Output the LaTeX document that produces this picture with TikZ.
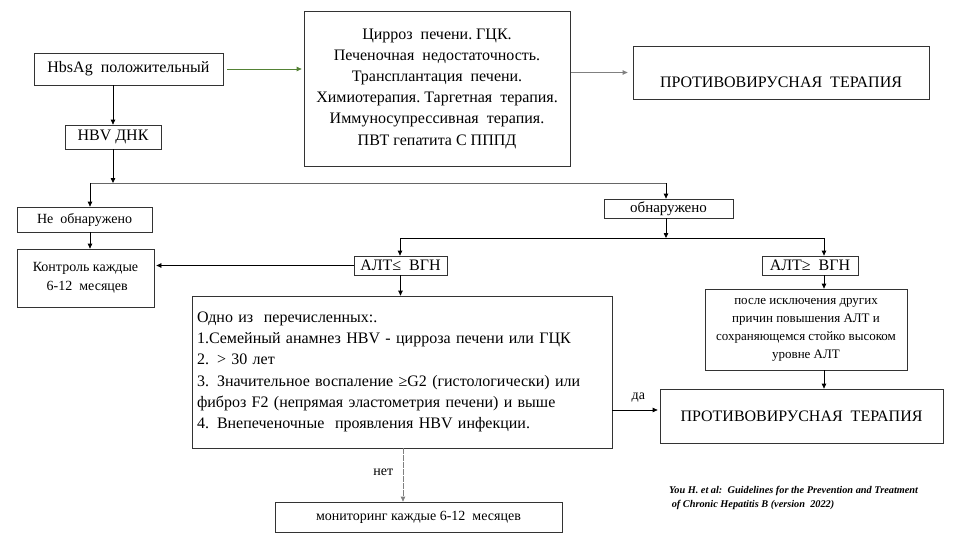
\documentclass[tikz,border=0pt]{standalone}
\usepackage{fontspec}
\setmainfont{Liberation Serif}
\usetikzlibrary{arrows.meta}
\definecolor{arrgreen}{RGB}{84,130,53}

\tikzset{
	box/.style={draw=black!80, line width=0.75pt, inner sep=0pt, align=center},
	conn/.style={draw=black, line width=0.75pt},
	arr/.style={conn, -{Triangle[length=5pt,width=4.5pt]}},
	fsA/.style={font=\fontsize{16}{21.2}\selectfont},
	fsB/.style={font=\fontsize{14}{19}\selectfont},
	fsC/.style={font=\fontsize{13}{18}\selectfont}
}

\begin{document}
\begin{tikzpicture}[x=1pt,y=-1pt]
				\useasboundingbox (0,0) rectangle (962,541);
				
				%% top row
				\node[box, fsA, minimum width=189pt, minimum height=32pt] (hbs) at (128.5,69) {HbsAg\ \ положительный};
				\node[box, fsA, minimum width=266pt, minimum height=155pt] (risk) at (437,88.5) {Цирроз\ \ печени.\ ГЦК.\\Печеночная\ \ недостаточность.\\Трансплантация\ \ печени.\\Химиотерапия.\ Таргетная\ \ терапия.\\Иммуносупрессивная\ \ терапия.\\ПВТ\ гепатита\ С\ ПППД};
				\node[box, fsA, minimum width=296pt, minimum height=53pt, text height=30pt, text depth=1pt] (avt1) at (781,72.5) {ПРОТИВОВИРУСНАЯ\ \ ТЕРАПИЯ};
				\node[box, fsA, minimum width=96pt, minimum height=24pt] (hbv) at (113,137) {HBV ДНК};
				
				%% branch DNA
				\node[box, fsB, minimum width=135pt, minimum height=25pt] (notfound) at (84.5,219.5) {Не\ \ обнаружено};
				\node[box, font=\fontsize{15}{18}\selectfont, minimum width=129pt, minimum height=19pt] (found) at (668.5,208.5) {обнаружено};
				\node[box, fsB, minimum width=137pt, minimum height=58pt] (ctrl) at (85.5,278) {Контроль каждые\\\ 6-12\ \ месяцев};
				\node[box, fsA, minimum width=93pt, minimum height=19pt] (altle) at (400.5,265.5) {АЛТ≤\ \ ВГН};
				\node[box, fsA, minimum width=96pt, minimum height=19pt] (altge) at (810,265.5) {АЛТ≥\ \ ВГН};
				
				%% lower part
				\node[box, fsA, minimum width=420pt, minimum height=152pt, text width=410pt, align=left] (crit) at (402,372) {Одно из\ \ перечисленных:.\\1.Семейный\ анамнез HBV - цирроза\ печени\ или ГЦК\\2. > 30 лет\\3. Значительное\ воспаление ≥G2 (гистологически)\ или\\фиброз F2 (непрямая\ эластометрия\ печени) и выше\\4. Внепеченочные\ \ проявления HBV инфекции.};
				\node[box, fsC, minimum width=202pt, minimum height=81pt] (excl) at (806,329.5) {после исключения других\\причин повышения АЛТ и\\сохраняющемся стойко высоком\\уровне АЛТ};
				\node[box, fsA, minimum width=283pt, minimum height=54pt] (avt2) at (801.5,416) {ПРОТИВОВИРУСНАЯ\ \ ТЕРАПИЯ};
				\node[box, fsB, minimum width=287pt, minimum height=30pt] (mon) at (418.5,517) {мониторинг каждые 6-12\ \ месяцев};
				
				\node[anchor=north west, align=left, inner sep=0pt, font=\fontsize{10.3}{14.5}\selectfont\bfseries\itshape] (ref) at (669,486) {You H. et al:\ \ Guidelines for the Prevention and Treatment\\\ of Chronic Hepatitis B (version\ \ 2022)};
				
				%% split points
				\coordinate (sp1) at (90,183);
				\coordinate (sp1r) at (666,183);
				\coordinate (sp2) at (400,238);
				\coordinate (sp2r) at (824,238);
				
				%% connectors
				\draw[arr] (hbv.north |- hbs.south) -- (hbv.north);
				\draw[arr, draw=arrgreen, shorten <=4pt, shorten >=2pt] (hbs.east) -- (risk.west |- hbs.east);
				\draw[arr, draw=black!50, shorten <=1pt, shorten >=5pt] (risk.east |- avt1.west) -- (avt1.west);
				\draw[arr] (hbv.south) -- (hbv |- sp1);
				\draw[conn, draw=black!60] (sp1) -- (sp1r);
				\draw[arr] (sp1) -- (sp1 |- notfound.north);
				\draw[arr] (sp1r) -- (sp1r |- found.north);
				\draw[arr] (sp1 |- notfound.south) -- (sp1 |- ctrl.north);
				\draw[arr] (sp1r |- found.south) -- (sp1r |- sp2);
				\draw[conn] (sp2) -- (sp2r);
				\draw[arr] (sp2) -- (sp2 |- altle.north);
				\draw[arr] (sp2r) -- (sp2r |- altge.north);
				\draw[arr, shorten >=2pt] (altle.west) -- (ctrl.east |- altle.west);
				\draw[arr] (altle.south) -- (altle.south |- crit.north);
				\draw[arr] (sp2r |- altge.south) -- (sp2r |- excl.north);
				\draw[arr] (sp2r |- excl.south) -- (sp2r |- avt2.north);
				\draw[arr, shorten >=2pt] (crit.east |- 0,410) -- node[above, fsB, pos=0.55, yshift=4pt] {да} (avt2.west |- 0,410);
				\draw[arr, draw=black!50, dashed, dash pattern=on 6pt off 1pt] (403,448) -- node[left, fsB, pos=0.45, xshift=-6pt] {нет} (mon.north -| 403,0);
\end{tikzpicture}
\end{document}
